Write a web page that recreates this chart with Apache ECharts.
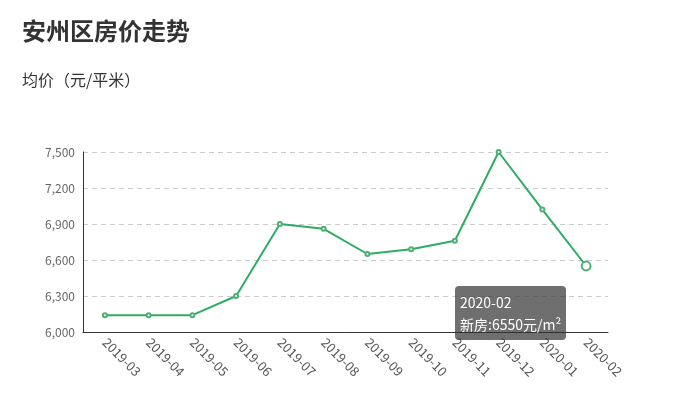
<!DOCTYPE html>
<html>
<head>
<meta charset="utf-8">
<script src="https://cdn.jsdelivr.net/npm/echarts@6/dist/echarts.min.js"></script>
<style>
html, body { margin: 0; padding: 0; background: #fff; }
#chart { width: 699px; height: 410px; }
</style>
</head>
<body>
<div id="chart"></div>
<script>
var months = ['2019-03', '2019-04', '2019-05', '2019-06', '2019-07', '2019-08', '2019-09', '2019-10', '2019-11', '2019-12', '2020-01', '2020-02'];
var prices = [6140, 6140, 6140, 6300, 6900, 6860, 6650, 6690, 6760, 7500, 7020, 6550];
var yMin = 6000, yMax = 7500, yStep = 300;

var font = '"Microsoft YaHei", "Noto Sans CJK SC", sans-serif';

var option = {
    textStyle: { fontFamily: font },
    title: [
        { text: '安州区房价走势', left: 22, top: 19, padding: 0,
          textStyle: { fontSize: 24, fontWeight: 'bold', color: '#333', fontFamily: font } },
        { text: '均价（元/平米）', left: 22, top: 72, padding: 0,
          textStyle: { fontSize: 16, fontWeight: 'normal', color: '#333', fontFamily: font } }
    ],
    tooltip: {
        trigger: 'item',
        backgroundColor: 'rgba(50,50,50,0.7)',
        borderWidth: 0,
        borderRadius: 4,
        padding: [5, 5],
        textStyle: { color: '#fff', fontSize: 14, fontFamily: font },
        extraCssText: 'box-shadow:none;line-height:22px;',
        position: function (point, params, dom, rect, size) {
            return [point[0] - size.contentSize[0] - 20, point[1] + 20];
        },
        formatter: function (p) {
            return p.name + '<br/>' + p.seriesName + ':' + p.value + '元/m²';
        }
    },
    grid: { left: 83, right: 91, top: 152, bottom: 78 },
    xAxis: {
        type: 'category',
        data: months,
        axisLine: { lineStyle: { color: '#333' } },
        axisTick: { lineStyle: { color: '#333' } },
        axisLabel: { rotate: -45, color: '#555', fontSize: 13, margin: 8 }
    },
    yAxis: {
        type: 'value',
        min: yMin,
        max: yMax,
        interval: yStep,
        axisLine: { show: true, lineStyle: { color: '#333' } },
        axisTick: { show: false },
        axisLabel: { color: '#666', fontSize: 12 },
        splitLine: { lineStyle: { color: '#ccc', type: [5, 4] } }
    },
    series: [{
        name: '新房',
        type: 'line',
        data: prices,
        symbol: 'emptyCircle',
        symbolSize: 4,
        lineStyle: { color: '#2a9d5a', width: 2 },
        itemStyle: { color: '#4cb074', borderWidth: 1 },
        emphasis: { scale: 2.2 }
    }]
};

var chart = echarts.init(document.getElementById('chart'));
chart.setOption(option);
chart.dispatchAction({ type: 'highlight', seriesIndex: 0, dataIndex: 11 });
chart.dispatchAction({ type: 'showTip', seriesIndex: 0, dataIndex: 11 });
</script>
</body>
</html>
